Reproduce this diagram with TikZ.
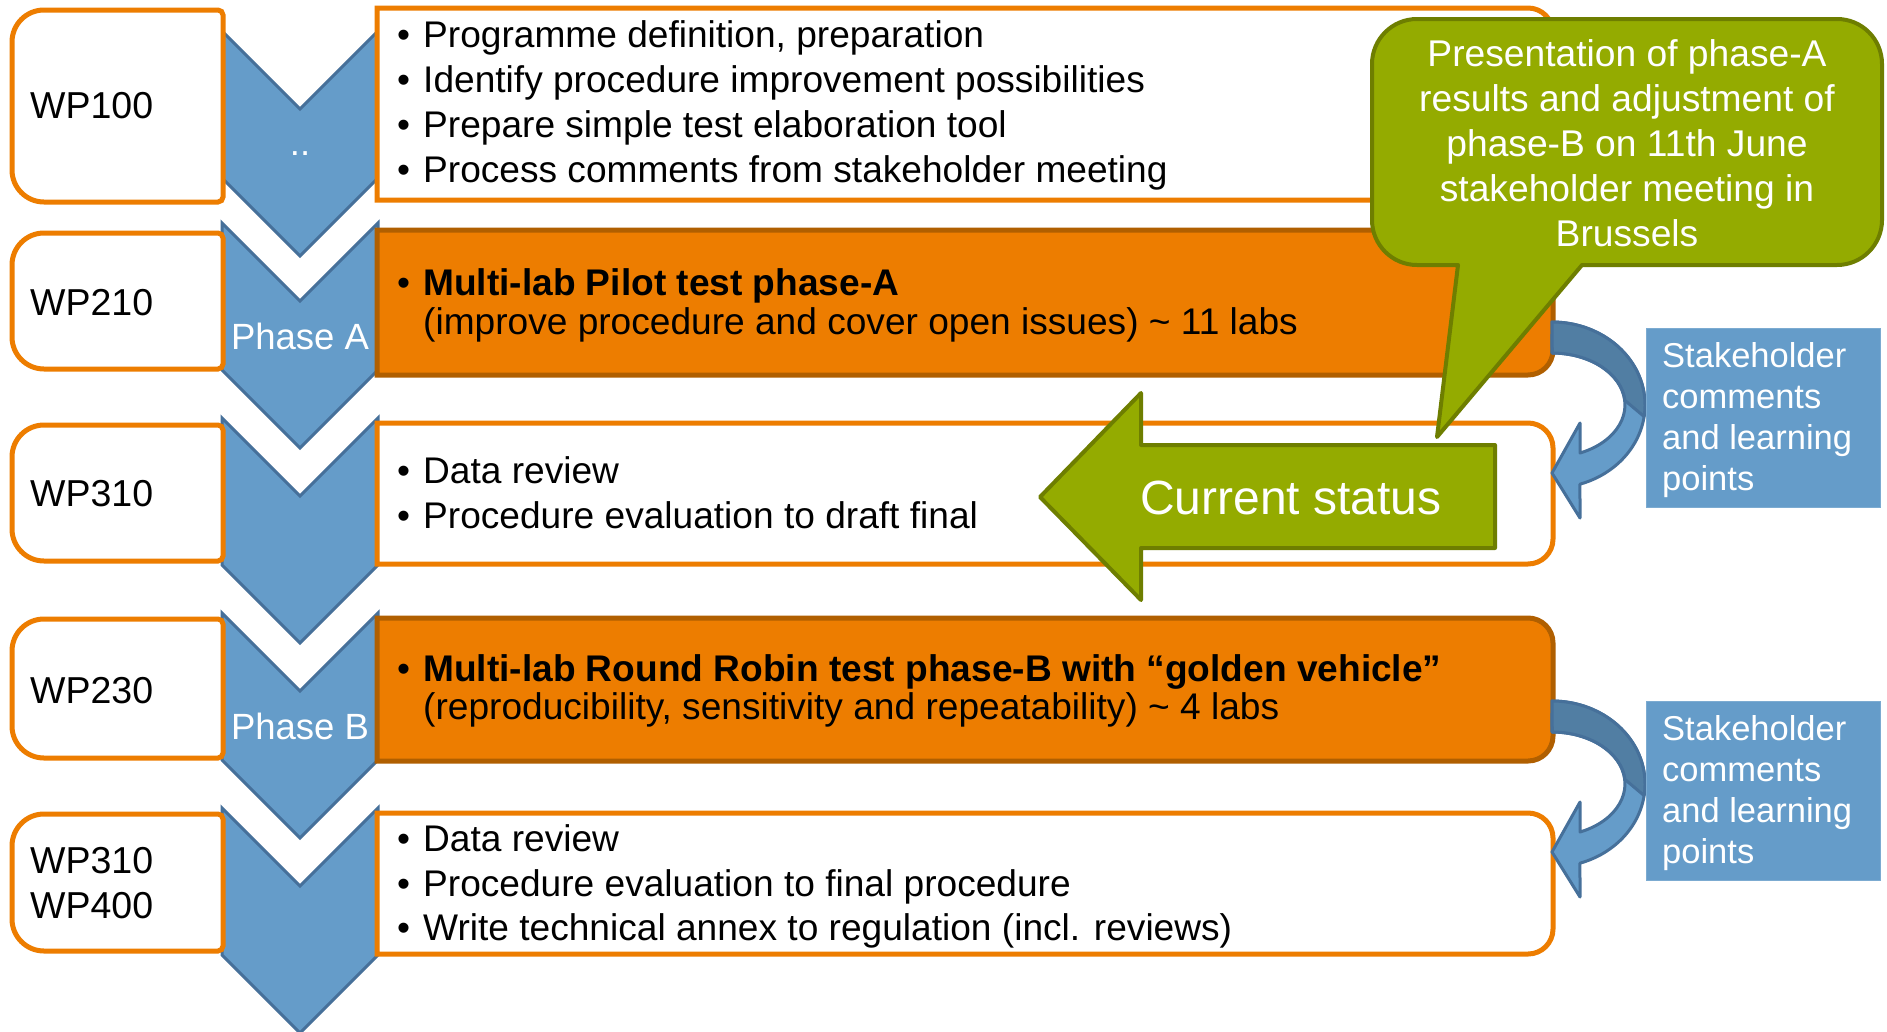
\documentclass[tikz,border=0pt]{standalone}
\usepackage{fontspec}
\setmainfont{Liberation Sans}
\definecolor{orng}{HTML}{ED7D00}
\definecolor{orngdark}{HTML}{B05F00}
\definecolor{chevblue}{HTML}{659CC9}
\definecolor{chevedge}{HTML}{46709A}
\definecolor{arrowdark}{HTML}{517EA3}
\definecolor{grn}{HTML}{94AB00}
\definecolor{grndark}{HTML}{6E7E00}
\tikzset{
  chev/.style={fill=chevblue, draw=chevedge, line width=3, line join=miter},
  wpbox/.style={fill=white, draw=orng, line width=5},
  whitebox/.style={fill=white, draw=orng, line width=5},
  orangebox/.style={fill=orng, draw=orngdark, line width=5},
  bodytext/.style={inner sep=0, anchor=base west, font=\fontsize{37.1}{45}\selectfont},
  wptext/.style={inner sep=0, anchor=base west, font=\fontsize{37.5}{45}\selectfont},
  phasetext/.style={inner sep=0, anchor=base, text=white, font=\fontsize{36.5}{44}\selectfont},
  callouttext/.style={inner sep=0, anchor=base, text=white, font=\fontsize{37.2}{45}\selectfont},
  shtext/.style={inner sep=0, anchor=base west, text=white, font=\fontsize{34.5}{41}\selectfont},
  curvlight/.style={fill=chevblue, draw=chevedge, line width=3, line join=round},
  curvdark/.style={fill=arrowdark, draw=chevedge, line width=3, line join=round},
  shbox/.style={fill=chevblue, draw=chevblue!85!white, line width=1},
  greenshape/.style={fill=grn, draw=grndark, line width=4, line join=round},
}
\newcommand\chevshape[1]{\draw[chev] (222,#1) -- (300,#1+78) -- (378,#1) -- (378,#1+147) -- (300,#1+225) -- (222,#1+147) -- cycle;}
\newcommand\wpshape[2]{\draw[wpbox] (44,#1) -- (218,#1) arc[start angle=-90,end angle=0,radius=5] -- (223,#2-5) arc[start angle=0,end angle=90,radius=5] -- (44,#2) arc[start angle=90,end angle=180,radius=32] -- (12,#1+32) arc[start angle=180,end angle=270,radius=32] -- cycle;}
\newcommand\contshape[3]{\draw[#3] (377,#1) -- (1528,#1) arc[start angle=-90,end angle=0,radius=25] -- (1553,#2-25) arc[start angle=0,end angle=90,radius=25] -- (377,#2) -- cycle;}
\newcommand\curvarrow[1]{%
  \begin{scope}[shift={(0,#1)}]
    \draw[curvlight] (1552,322) arc[start angle=-90,end angle=72.5,x radius=93,y radius=83] -- (1580,518) -- (1552,473) -- (1580,423) -- (1580,453) arc[start angle=67.4,end angle=-90,x radius=73,y radius=52] -- cycle;
    \draw[curvdark] (1552,322) arc[start angle=-90,end angle=8,x radius=93,y radius=83] -- (1625,400.5) arc[start angle=-5,end angle=-90,x radius=73,y radius=52] -- cycle;
  \end{scope}}
\begin{document}
\begin{tikzpicture}[x=1pt,y=-1pt]
\useasboundingbox (0,0) rectangle (1887,1031);
\fill[white] (0,0) rectangle (1887,1031);
% chevrons
\chevshape{31}
\chevshape{223}
\chevshape{418}
\chevshape{613}
\chevshape{808}
% WP boxes
\wpshape{10}{202}
\wpshape{233}{369}
\wpshape{425}{561}
\wpshape{619}{758}
\wpshape{814}{951}
% content boxes
\contshape{8}{200}{whitebox}
\contshape{230}{375}{orangebox}
\contshape{423}{564}{whitebox}
\contshape{618}{761}{orangebox}
\contshape{813}{954}{whitebox}
% WP labels
\node[wptext] (wp100) at (30,118) {WP100};
\node[wptext] (wp210) at (30,315) {WP210};
\node[wptext] (wp310a) at (30,506) {WP310};
\node[wptext] (wp230) at (30,703) {WP230};
\node[wptext] (wp310b) at (30,873) {WP310};
\node[wptext] (wp400) at (30,918) {WP400};
% chevron labels
\node[phasetext] (dots) at (300,155) {..};
\node[phasetext] (phaseA) at (300,349) {Phase A};
\node[phasetext] (phaseB) at (300,739) {Phase B};
% box 1
\node[bodytext] (b1a) at (397,47) {•};
\node[bodytext] (t1a) at (423,47) {Programme definition, preparation};
\node[bodytext] (b1b) at (397,92) {•};
\node[bodytext] (t1b) at (423,92) {Identify procedure improvement possibilities};
\node[bodytext] (b1c) at (397,137) {•};
\node[bodytext] (t1c) at (423,137) {Prepare simple test elaboration tool};
\node[bodytext] (b1d) at (397,182) {•};
\node[bodytext] (t1d) at (423,182) {Process comments from stakeholder meeting};
% box 2
\node[bodytext] (b2a) at (397,295) {•};
\node[bodytext] (t2a) at (423,295) {\bfseries Multi-lab Pilot test phase-A};
\node[bodytext] (t2b) at (423,334) {(improve procedure and cover open issues) \textasciitilde{} 11 labs};
% box 3
\node[bodytext] (b3a) at (397,483) {•};
\node[bodytext] (t3a) at (423,483) {Data review};
\node[bodytext] (b3b) at (397,528) {•};
\node[bodytext] (t3b) at (423,528) {Procedure evaluation to draft final};
% box 4
\node[bodytext] (b4a) at (397,681) {•};
\node[bodytext] (t4a) at (423,681) {\bfseries Multi-lab Round Robin test phase-B with “golden vehicle”};
\node[bodytext] (t4b) at (423,719) {(reproducibility, sensitivity and repeatability) \textasciitilde{} 4 labs};
% box 5
\node[bodytext] (b5a) at (397,851) {•};
\node[bodytext] (t5a) at (423,851) {Data review};
\node[bodytext] (b5b) at (397,896) {•};
\node[bodytext] (t5b) at (423,896) {Procedure evaluation to final procedure};
\node[bodytext] (b5c) at (397,940) {•};
\node[bodytext] (t5c) at (423,940) {Write technical annex to regulation (incl. reviews)};
% curved arrows
\curvarrow{0}
\curvarrow{379}
% stakeholder boxes
\draw[shbox] (1646,328) rectangle (1880,507);
\node[shtext] (s1a) at (1662,367) {Stakeholder};
\node[shtext] (s1b) at (1662,408) {comments};
\node[shtext] (s1c) at (1662,449) {and learning};
\node[shtext] (s1d) at (1662,490) {points};
\draw[shbox] (1646,701) rectangle (1880,880);
\node[shtext] (s2a) at (1662,740) {Stakeholder};
\node[shtext] (s2b) at (1662,781) {comments};
\node[shtext] (s2c) at (1662,822) {and learning};
\node[shtext] (s2d) at (1662,863) {points};
% current status arrow
\draw[greenshape] (1040,497) -- (1141,393) -- (1141,445) -- (1495,445) -- (1495,548) -- (1141,548) -- (1141,600) -- cycle;
\node[inner sep=0, anchor=base, text=white, font=\fontsize{48}{56}\selectfont] (cur) at (1291,514) {Current status};
% callout
\draw[greenshape] (1417,19) -- (1837,19) arc[start angle=-90,end angle=0,radius=45] -- (1882,220) arc[start angle=0,end angle=90,radius=45] -- (1582,265) -- (1437,437) -- (1458,265) -- (1417,265) arc[start angle=90,end angle=180,radius=45] -- (1372,64) arc[start angle=180,end angle=270,radius=45] -- cycle;
\node[callouttext] (c1) at (1627,66) {Presentation of phase-A};
\node[callouttext] (c2) at (1627,111) {results and adjustment of};
\node[callouttext] (c3) at (1627,156) {phase-B on 11th June};
\node[callouttext] (c4) at (1627,201) {stakeholder meeting in};
\node[callouttext] (c5) at (1627,246) {Brussels};
\end{tikzpicture}
\end{document}
